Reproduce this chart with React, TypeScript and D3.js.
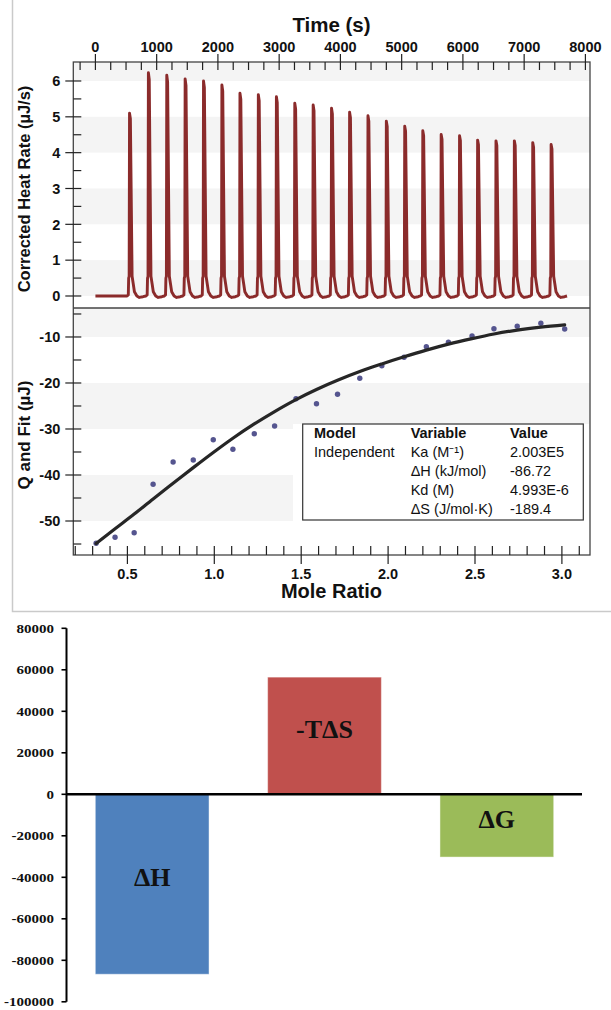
import { useEffect, useRef } from 'react'
import * as d3 from 'd3'

// ---- ITC thermogram (top panel) ----
const injectionTimes = [537, 845, 1145, 1445, 1745, 2045, 2340, 2640, 2935, 3235, 3535, 3835,
  4130, 4430, 4730, 5030, 5325, 5625, 5925, 6220, 6520, 6820, 7120, 7420]
const peakHeights = [5.10, 6.23, 6.16, 6.06, 6.00, 5.89, 5.66, 5.62, 5.56, 5.38, 5.33, 5.24,
  5.13, 5.03, 4.88, 4.74, 4.61, 4.51, 4.47, 4.35, 4.33, 4.33, 4.28, 4.23]
// one injection spike: [seconds after injection, share of peak height, offset]
const peakShape = [[-20, 0, 0], [0, 0, 0.03], [6, 0, 0.5], [14, 0, 0.55], [20, 1, 0], [34, 0.97, 0],
  [62, 0, 0.55], [80, 0, 0.35], [100, 0, 0.12], [140, 0, 0], [180, 0, -0.04], [240, 0, -0.02]]
const traceStart = [0, 0]
const traceEnd = [7700, 0]

// ---- integrated heats (middle panel) ----
const moleRatio = [0.320, 0.429, 0.539, 0.648, 0.763, 0.879, 0.994, 1.107, 1.230, 1.347, 1.470, 1.588,
  1.709, 1.837, 1.964, 2.092, 2.220, 2.347, 2.483, 2.609, 2.743, 2.879, 3.016]
const heatQ = [-54.85, -53.54, -52.54, -42.02, -37.17, -36.74, -32.33, -34.41, -31.02, -29.35, -23.41, -24.50,
  -22.46, -18.98, -16.24, -14.41, -12.11, -11.15, -9.78, -8.20, -7.67, -7.02, -8.26]
const fitQ = [-54.9, -51.7, -48.5, -45.2, -41.8, -38.4, -35.1, -32.0, -28.9, -26.2, -23.6, -21.4,
  -19.4, -17.5, -15.85, -14.3, -12.85, -11.55, -10.35, -9.35, -8.5, -7.85, -7.35]

const tableHeader = ['Model', 'Variable', 'Value']
const tableModel = ['Independent', '', '', '']
const tableVariable = ['Ka (M⁻¹)', 'ΔH (kJ/mol)', 'Kd (M)', 'ΔS (J/mol·K)']
const tableValue = ['2.003E5', '-86.72', '4.993E-6', '-189.4']

const topBands = [[0, 1], [2, 3], [4, 5], [6, 7]]
const bottomBands = [[-10, 0], [-30, -20], [-50, -40]]

// ---- thermodynamic signature (bottom bar chart) ----
const barNames = ['ΔH', '-TΔS', 'ΔG']
const barValues = [-86720, 56470, -30250]
const barColors = ['#4f81bd', '#c0504d', '#9bbb59']
const barTicks = [80000, 60000, 40000, 20000, 0, -20000, -40000, -60000, -80000, -100000]

export default function App() {
  const svgRef = useRef<SVGSVGElement>(null)

  useEffect(() => {
    const svg = d3.select(svgRef.current)
    svg.selectAll('*').remove()

    const sans = '"Liberation Sans", Arial, sans-serif'
    const serif = '"Liberation Serif", "Times New Roman", serif'

    // outline of the ITC figure
    svg.append('path')
      .attr('d', 'M12.5,0V611.5H611')
      .attr('fill', 'none')
      .attr('stroke', '#cacaca')
      .attr('stroke-width', 1.5)

    const left = 73.3, right = 590, top = 62, mid = 308, bottom = 555

    const xTime = d3.scaleLinear().domain([-361, 8075]).range([left, right])
    const yHeat = d3.scaleLinear().domain([-0.335, 6.53]).range([mid, top])
    const xRatio = d3.scaleLinear().domain([0.1887, 3.1617]).range([left, right])
    const yQ = d3.scaleLinear().domain([-57.39, -3.7]).range([bottom, mid])

    const g = svg.append('g')

    // alternating bands
    const [h0, h1] = yHeat.domain()
    topBands.forEach(([a, b]) => {
      const lo = Math.max(a, h0), hi = Math.min(b, h1)
      g.append('rect').attr('x', left).attr('width', right - left)
        .attr('y', yHeat(hi)).attr('height', yHeat(lo) - yHeat(hi)).attr('fill', '#f4f4f4')
    })
    const [q0, q1] = yQ.domain()
    bottomBands.forEach(([a, b]) => {
      const lo = Math.max(a, q0), hi = Math.min(b, q1)
      g.append('rect').attr('x', left).attr('width', right - left)
        .attr('y', yQ(hi)).attr('height', yQ(lo) - yQ(hi)).attr('fill', '#f4f4f4')
    })

    // thermogram trace
    const trace: number[][] = [traceStart]
    injectionTimes.forEach((t, i) => {
      peakShape.forEach(([dt, a, b]) => trace.push([t + dt, a * peakHeights[i] + b]))
    })
    trace.push(traceEnd)
    g.append('path')
      .datum(trace)
      .attr('d', d3.line<number[]>().x(d => xTime(d[0])).y(d => yHeat(d[1])))
      .attr('fill', 'none')
      .attr('stroke', '#8b2b2b')
      .attr('stroke-width', 2.9)
      .attr('stroke-linejoin', 'round')

    // white backdrop behind the results table
    g.append('rect').attr('x', 293).attr('y', 424).attr('width', right - 294).attr('height', 97).attr('fill', '#fff')

    // dots then fit line
    g.selectAll('.dot').data(moleRatio).enter().append('circle')
      .attr('cx', d => xRatio(d)).attr('cy', (d, i) => yQ(heatQ[i]))
      .attr('r', 2.7).attr('fill', '#55558f')
    g.append('path')
      .datum(moleRatio.map((r, i) => [r, fitQ[i]]))
      .attr('d', d3.line<number[]>().curve(d3.curveCatmullRom).x(d => xRatio(d[0])).y(d => yQ(d[1])))
      .attr('fill', 'none')
      .attr('stroke', '#262626')
      .attr('stroke-width', 3.2)
      .attr('stroke-linecap', 'round')

    const tab = g.append('g').attr('font-family', sans).attr('font-size', 14.5).attr('fill', '#111')
    tab.append('rect').attr('x', 302.7).attr('y', 424).attr('width', 280.6).attr('height', 96)
      .attr('fill', 'none').attr('stroke', '#333').attr('stroke-width', 1.2)
    const colX = [314, 410.7, 510]
    tableHeader.forEach((h, i) => {
      tab.append('text').attr('x', colX[i]).attr('y', 437.5).attr('font-weight', 'bold').text(h)
    })
    tableVariable.forEach((v, i) => {
      const y = 456.5 + i * 19.1
      tab.append('text').attr('x', colX[0]).attr('y', y).text(tableModel[i])
      tab.append('text').attr('x', colX[1]).attr('y', y).text(v)
      tab.append('text').attr('x', colX[2]).attr('y', y).text(tableValue[i])
    })

    // frame
    const frame = svg.append('g').attr('stroke', '#444').attr('stroke-width', 1.3).attr('fill', 'none')
    frame.append('rect').attr('x', left).attr('y', top).attr('width', right - left).attr('height', bottom - top)
    frame.append('line').attr('x1', left).attr('x2', right).attr('y1', mid).attr('y2', mid)

    const ticks = svg.append('g').attr('stroke', '#222').attr('stroke-width', 1.2)
    const labels = svg.append('g').attr('font-family', sans).attr('font-weight', 'bold')
      .attr('font-size', 14.5).attr('fill', '#111')

    // top time axis
    d3.range(-250, 8076, 250).forEach(t => {
      const major = t % 1000 === 0
      ticks.append('line').attr('x1', xTime(t)).attr('x2', xTime(t))
        .attr('y1', major ? top - 8 : top).attr('y2', top + 8)
      if (major) labels.append('text').attr('x', xTime(t)).attr('y', 52.3)
        .attr('text-anchor', 'middle').text(t)
    })
    // bottom mole ratio axis
    d3.range(2, 32).map(k => k / 10).forEach(r => {
      const major = Math.round(r * 10) % 5 === 0
      ticks.append('line').attr('x1', xRatio(r)).attr('x2', xRatio(r))
        .attr('y1', bottom - 9).attr('y2', major ? bottom + 9 : bottom)
      if (major) labels.append('text').attr('x', xRatio(r)).attr('y', 579)
        .attr('text-anchor', 'middle').text(r.toFixed(1))
    })
    // left heat-rate axis
    d3.range(0, 13).map(k => k / 2).forEach(v => {
      const major = Number.isInteger(v)
      ticks.append('line').attr('y1', yHeat(v)).attr('y2', yHeat(v))
        .attr('x1', major ? left - 8 : left).attr('x2', left + 8)
      if (major) labels.append('text').attr('x', left - 13).attr('y', yHeat(v))
        .attr('dy', '0.36em').attr('text-anchor', 'end').text(v)
    })
    // left Q axis
    d3.range(-55, -4, 5).forEach(v => {
      const major = v % 10 === 0
      ticks.append('line').attr('y1', yQ(v)).attr('y2', yQ(v))
        .attr('x1', major ? left - 8 : left).attr('x2', left + 8)
      if (major) labels.append('text').attr('x', left - 13).attr('y', yQ(v))
        .attr('dy', '0.36em').attr('text-anchor', 'end').text(v)
    })

    // axis titles
    labels.append('text').attr('x', 331.5).attr('y', 31.5).attr('text-anchor', 'middle')
      .attr('font-size', 20.5).text('Time (s)')
    labels.append('text').attr('x', 331.5).attr('y', 598).attr('text-anchor', 'middle')
      .attr('font-size', 20).text('Mole Ratio')
    labels.append('text').attr('transform', 'translate(30,189) rotate(-90)').attr('text-anchor', 'middle')
      .attr('font-size', 16.5).text('Corrected Heat Rate (µJ/s)')
    labels.append('text').attr('transform', 'translate(30,435) rotate(-90)').attr('text-anchor', 'middle')
      .attr('font-size', 17).text('Q and Fit (µJ)')

    // ---- bar chart ----
    const yBar = d3.scaleLinear().domain([-100000, 80000]).range([1001.8, 628.3])
    const xBar = d3.scaleBand().domain(barNames).range([66, 583]).paddingInner(0.34).paddingOuter(0.17)
    const bars = svg.append('g')

    bars.selectAll('.bar').data(barValues).enter().append('rect')
      .attr('x', (d, i) => xBar(barNames[i]) ?? 0)
      .attr('width', xBar.bandwidth())
      .attr('y', d => yBar(Math.max(0, d)))
      .attr('height', d => Math.abs(yBar(d) - yBar(0)))
      .attr('fill', (d, i) => barColors[i])
      .attr('stroke', 'rgba(255,255,255,0.45)')
      .attr('stroke-width', 1)

    bars.selectAll('.barlabel').data(barValues).enter().append('text')
      .attr('x', (d, i) => (xBar(barNames[i]) ?? 0) + xBar.bandwidth() / 2)
      .attr('y', d => yBar(d / 2) + 2)
      .attr('text-anchor', 'middle')
      .attr('font-family', serif)
      .attr('font-weight', 'bold')
      .attr('font-size', 26)
      .attr('fill', '#111')
      .text((d, i) => barNames[i])

    // zero line and axis
    bars.append('line').attr('x1', 66).attr('x2', 582).attr('y1', yBar(0)).attr('y2', yBar(0))
      .attr('stroke', '#000').attr('stroke-width', 2.5)
    bars.append('line').attr('x1', 66.5).attr('x2', 66.5)
      .attr('y1', yBar(80000)).attr('y2', yBar(-100000))
      .attr('stroke', '#000').attr('stroke-width', 2)
    barTicks.forEach(v => {
      bars.append('line').attr('x1', 61.5).attr('x2', 66.5).attr('y1', yBar(v)).attr('y2', yBar(v))
        .attr('stroke', '#000').attr('stroke-width', 1.6)
      bars.append('text')
        .attr('transform', `translate(54,${yBar(v)}) scale(1.2,1)`)
        .attr('dy', '0.35em')
        .attr('text-anchor', 'end')
        .attr('font-family', serif)
        .attr('font-weight', 'bold')
        .attr('font-size', 12.5)
        .attr('fill', '#111')
        .text(v)
    })
  }, [])

  return (
    <svg ref={svgRef} width={611} height={1010}
      style={{ position: 'absolute', left: 0, top: 0, background: '#fff' }} />
  )
}
